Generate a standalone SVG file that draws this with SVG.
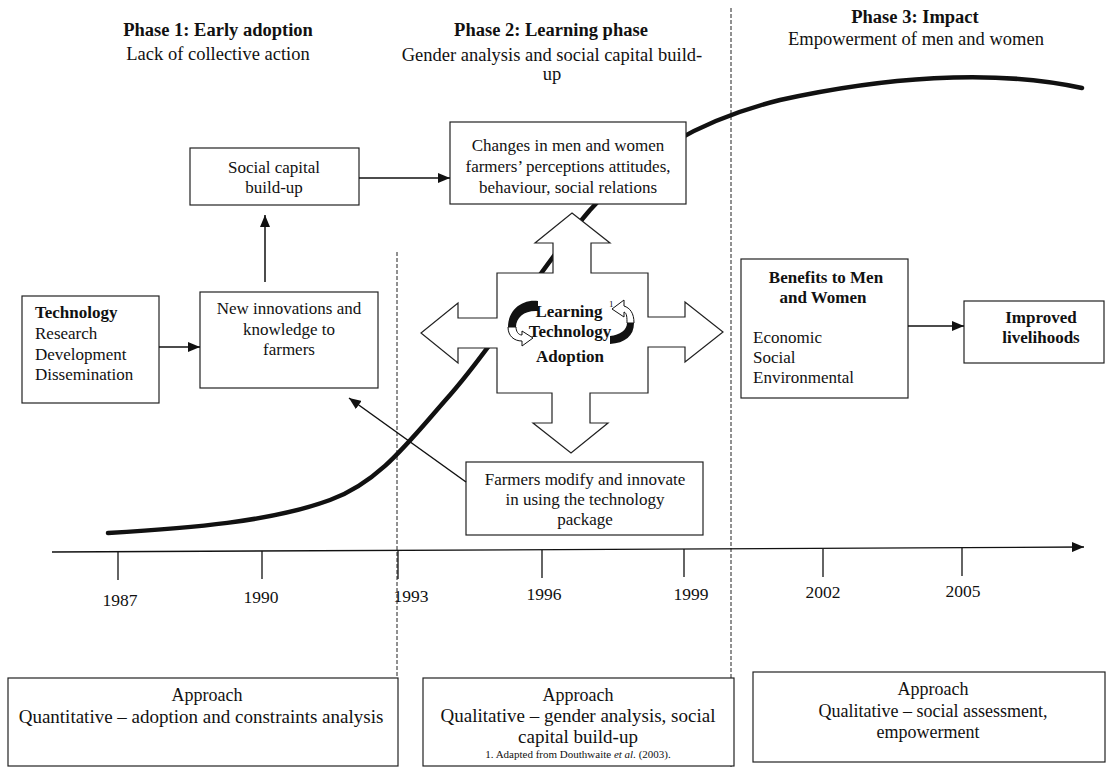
<svg xmlns="http://www.w3.org/2000/svg" width="1112" height="773" viewBox="0 0 1112 773">
<defs>
<marker id="ah" viewBox="0 0 12 10" refX="12" refY="5" markerWidth="12" markerHeight="10" markerUnits="userSpaceOnUse" orient="auto"><path d="M0,0 L12,5 L0,10 Z" fill="#111"/></marker>
<style>
text{font-family:"Liberation Serif","Times New Roman",serif;fill:#111}
.h{font-size:18.5px}
.b{font-weight:bold}
.n{font-size:17px}
.a{font-size:18px}
.a2{font-size:19px}
.y{font-size:17.5px}
.m{text-anchor:middle}
.box{fill:#fff;stroke:#222;stroke-width:1.2}
.conn{stroke:#111;stroke-width:1.5;fill:none}
.dash{stroke:#222;stroke-width:1;stroke-dasharray:4 2;fill:none}
.tick{stroke:#111;stroke-width:1.3}
</style>
</defs>
<rect width="1112" height="773" fill="#fff"/>

<g id="headings">
<text class="h b m" x="218" y="36">Phase 1: Early adoption</text>
<text class="h m" x="218" y="60">Lack of collective action</text>
<text class="h b m" x="551" y="36">Phase 2: Learning phase</text>
<text class="h m" x="552" y="61">Gender analysis and social capital build-</text>
<text class="h m" x="552" y="80">up</text>
<text class="h b m" x="915" y="23">Phase 3: Impact</text>
<text class="h m" x="916" y="45">Empowerment of men and women</text>
</g>

<g id="dividers">
<line class="dash" x1="397" y1="252" x2="397" y2="767"/>
<line class="dash" x1="731" y1="8" x2="731" y2="767"/>
</g>

<g id="adoption-curve">
<path d="M108,533 C190,528 270,522 330,500 C380,482 410,440 450,395 C500,338 540,268 590,210 C640,155 700,120 780,100 C880,78 990,68 1082,88" fill="none" stroke="#111" stroke-width="4.5" stroke-linecap="round"/>
</g>

<g id="timeline">
<line x1="52" y1="552" x2="1084" y2="547" stroke="#111" stroke-width="1.3" marker-end="url(#ah)"/>
<line class="tick" x1="118" y1="552" x2="118" y2="580"/>
<line class="tick" x1="262" y1="551" x2="262" y2="579"/>
<line class="tick" x1="398" y1="551" x2="398" y2="579"/>
<line class="tick" x1="542" y1="550" x2="542" y2="578"/>
<line class="tick" x1="684" y1="549" x2="684" y2="577"/>
<line class="tick" x1="823" y1="549" x2="823" y2="577"/>
<line class="tick" x1="962" y1="548" x2="962" y2="576"/>
<text class="y m" x="120" y="606">1987</text>
<text class="y m" x="261" y="603">1990</text>
<text class="y m" x="411" y="602">1993</text>
<text class="y m" x="544" y="600">1996</text>
<text class="y m" x="691" y="600">1999</text>
<text class="y m" x="823" y="598">2002</text>
<text class="y m" x="963" y="597">2005</text>
</g>

<g id="social-capital">
<rect class="box" x="190" y="148" width="169" height="57"/>
<text class="n m" x="274" y="173">Social capital</text>
<text class="n m" x="274" y="193">build-up</text>
</g>

<g id="changes">
<rect class="box" x="450" y="122" width="236" height="82"/>
<text class="n m" x="568" y="151">Changes in men and women</text>
<text class="n m" x="568" y="172">farmers’ perceptions attitudes,</text>
<text class="n m" x="568" y="193">behaviour, social relations</text>
</g>

<g id="technology">
<rect class="box" x="22" y="296" width="137" height="107"/>
<text class="n b" x="35" y="318">Technology</text>
<text class="n" x="35" y="339">Research</text>
<text class="n" x="35" y="360">Development</text>
<text class="n" x="35" y="380">Dissemination</text>
</g>

<g id="new-innovations">
<rect class="box" x="200" y="292" width="178" height="96"/>
<text class="n m" x="289" y="314">New innovations and</text>
<text class="n m" x="289" y="335">knowledge to</text>
<text class="n m" x="289" y="355">farmers</text>
</g>

<g id="learning-cross">
<polygon class="box" points="572,213 610,243 591,243 591,273 648,273 648,317 685,317 685,302 723,332 685,362 685,347 648,347 648,393 590,393 590,423 608,423 571,453 533,423 552,423 552,393 497,393 497,348 458,348 458,363 421,333 458,303 458,318 497,318 497,273 553,273 553,243 535,243"/>
<text class="n b m" x="569" y="317">Learning</text>
<text x="609" y="307" style="font-size:9px">1</text>
<text class="n b m" x="570" y="337">Technology</text>
<text class="n b m" x="570" y="362">Adoption</text>
<path d="M538,301 C522,299 508,310 508,327 L516,327 C516,317 525,310 538,311 Z" fill="#111"/>
<path d="M508,327 C508,336 514,341 522,341 L522,346 L533,338 L522,331 L522,335 C518,335 516,331 516,327 Z" fill="#fff" stroke="#111" stroke-width="1"/>
<path d="M634,323 C634,313 630,308 624,306 L624,300 L612,309 L624,317 L624,312 C627,313 627,318 627,323 Z" fill="#fff" stroke="#111" stroke-width="1"/>
<path d="M634,323 C634,336 625,343 610,344 L610,336 C620,335 627,330 627,323 Z" fill="#111"/>
</g>

<g id="farmers-modify">
<rect class="box" x="466" y="462" width="237" height="73"/>
<text class="n m" x="585" y="485">Farmers modify and innovate</text>
<text class="n m" x="585" y="505">in using the technology</text>
<text class="n m" x="585" y="525">package</text>
</g>

<g id="benefits">
<rect class="box" x="741" y="259" width="167" height="139"/>
<text class="n b m" x="826" y="283">Benefits to Men</text>
<text class="n b m" x="823" y="303">and Women</text>
<text class="n" x="753" y="343">Economic</text>
<text class="n" x="753" y="363">Social</text>
<text class="n" x="753" y="383">Environmental</text>
</g>

<g id="improved">
<rect class="box" x="964" y="301" width="140" height="62"/>
<text class="n b m" x="1041" y="323">Improved</text>
<text class="n b m" x="1041" y="343">livelihoods</text>
</g>

<g id="approach-1">
<rect class="box" x="8" y="678" width="390" height="88"/>
<text class="a m" x="207" y="701">Approach</text>
<text class="a2 m" x="201" y="723">Quantitative – adoption and constraints analysis</text>
</g>

<g id="approach-2">
<rect class="box" x="423" y="678" width="311" height="88"/>
<text class="a m" x="578" y="701">Approach</text>
<text class="a2 m" x="578" y="722">Qualitative – gender analysis, social</text>
<text class="a2 m" x="578" y="743">capital build-up</text>
<text class="m" x="578" y="758" style="font-size:11px">1. Adapted from Douthwaite <tspan font-style="italic">et al.</tspan> (2003).</text>
</g>

<g id="approach-3">
<rect class="box" x="753" y="672" width="352" height="90"/>
<text class="a m" x="933" y="695">Approach</text>
<text class="a m" x="933" y="717">Qualitative – social assessment,</text>
<text class="a m" x="928" y="738">empowerment</text>
</g>

<g id="connectors">
<line class="conn" x1="159" y1="347" x2="200" y2="347" marker-end="url(#ah)"/>
<line class="conn" x1="265" y1="282" x2="265" y2="215" marker-end="url(#ah)"/>
<line class="conn" x1="359" y1="178" x2="450" y2="178" marker-end="url(#ah)"/>
<line class="conn" x1="908" y1="326" x2="964" y2="326" marker-end="url(#ah)"/>
<line class="conn" x1="466" y1="482" x2="349" y2="398" marker-end="url(#ah)"/>
</g>
</svg>
